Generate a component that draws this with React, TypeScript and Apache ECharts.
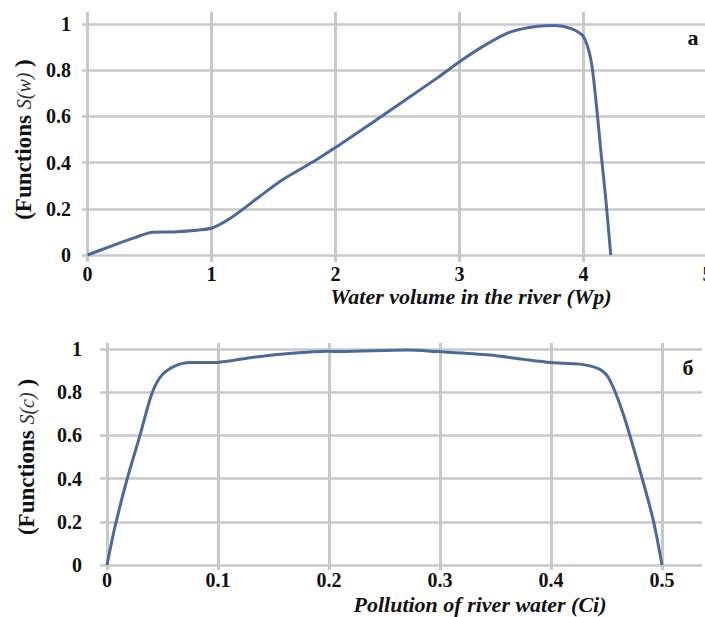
import React, { useEffect, useRef } from "react";
import * as echarts from "echarts";

// Panel а: S(w) vs water volume Wp
const wValues = [0, 0.18, 0.37, 0.53, 0.69, 0.9, 1.01, 1.17, 1.38, 1.57, 1.84, 2.01, 2.29, 2.56, 2.83, 3.02, 3.23, 3.42, 3.63, 3.77, 3.9, 4.0, 4.06, 4.1, 4.14, 4.18, 4.22];
const sW = [0, 0.036, 0.073, 0.099, 0.1, 0.108, 0.118, 0.166, 0.25, 0.325, 0.41, 0.469, 0.57, 0.67, 0.77, 0.844, 0.916, 0.967, 0.99, 0.994, 0.98, 0.945, 0.844, 0.67, 0.45, 0.24, 0];

// Panel б: S(c) vs pollution Ci
const cValues = [0, 0.0072, 0.0177, 0.0297, 0.04, 0.048, 0.06, 0.075, 0.099, 0.129, 0.159, 0.199, 0.21, 0.27, 0.297, 0.345, 0.375, 0.4, 0.426, 0.444, 0.453, 0.465, 0.48, 0.492, 0.5];
const sC = [0, 0.177, 0.39, 0.6, 0.787, 0.87, 0.918, 0.937, 0.938, 0.96, 0.977, 0.99, 0.988, 0.995, 0.988, 0.972, 0.952, 0.937, 0.93, 0.906, 0.856, 0.7, 0.44, 0.21, 0];

const xNameTop = "Water volume in the river (Wp)";
const xNameBottom = "Pollution of river water (Ci)";
const panelTop = "а";
const panelBottom = "б";

const SERIF = "Liberation Serif";
const GRID_COLOR = "#c9c9c9";
const LINE_COLOR = "#4a6a9c";

export default function App() {
  const ref = useRef<HTMLDivElement>(null);
  useEffect(() => {
    if (!ref.current) return;
    const chart = echarts.init(ref.current, null, { renderer: "svg" });
    const labelStyle = {
      fontFamily: SERIF,
      fontWeight: "bold" as const,
      fontSize: 20,
      color: "#111",
    };
    const nameRich = {
      b: { fontFamily: SERIF, fontWeight: "bold", fontSize: 23, color: "#111" },
      m: { fontFamily: SERIF, fontStyle: "italic", fontSize: 20, color: "#333" },
    };
    const option: any = {
      animation: false,
      backgroundColor: "#ffffff",
      grid: [
        // top, vertical grid lines + series
        { left: 87.5, top: 12, width: 620, height: 250, outerBoundsMode: "none", containLabel: false },
        // top, horizontal grid lines + y labels
        { left: 82, top: 24, right: 0, height: 231, outerBoundsMode: "none", containLabel: false },
        // bottom, vertical grid lines + series
        { left: 107, top: 343, width: 555, height: 227, outerBoundsMode: "none", containLabel: false },
        // bottom, horizontal grid lines + y labels
        { left: 100, top: 349, right: 3, height: 216, outerBoundsMode: "none", containLabel: false },
      ],
      xAxis: [
        {
          gridIndex: 0, type: "value", min: 0, max: 5, interval: 1,
          axisLine: { show: false }, axisTick: { show: false },
          splitLine: { show: true, lineStyle: { color: GRID_COLOR, width: 3 } },
          axisLabel: { ...labelStyle, margin: 2 },
        },
        { gridIndex: 1, type: "value", min: 0, max: 1, show: false },
        {
          gridIndex: 2, type: "value", min: 0, max: 0.5, interval: 0.1,
          axisLine: { show: false }, axisTick: { show: false },
          splitLine: { show: true, lineStyle: { color: GRID_COLOR, width: 3 } },
          axisLabel: { ...labelStyle, margin: 0 },
        },
        { gridIndex: 3, type: "value", min: 0, max: 1, show: false },
      ],
      yAxis: [
        { gridIndex: 0, type: "value", min: -0.0303, max: 1.0519, show: false },
        {
          gridIndex: 1, type: "value", min: 0, max: 1, interval: 0.2,
          axisLine: { show: false }, axisTick: { show: false },
          splitLine: { show: true, lineStyle: { color: GRID_COLOR, width: 2.5 } },
          axisLabel: { ...labelStyle, margin: 11 },
          name: "{b|(Functions }{m|S(w)}{b| )}",
          nameLocation: "middle", nameRotate: 90, nameGap: 44,
          nameTextStyle: { rich: nameRich },
        },
        { gridIndex: 2, type: "value", min: -0.0231, max: 1.0278, show: false },
        {
          gridIndex: 3, type: "value", min: 0, max: 1, interval: 0.2,
          axisLine: { show: false }, axisTick: { show: false },
          splitLine: { show: true, lineStyle: { color: GRID_COLOR, width: 2.5 } },
          axisLabel: { ...labelStyle, margin: 18 },
          name: "{b|(Functions }{m|S(c)}{b| )}",
          nameLocation: "middle", nameRotate: 90, nameGap: 62,
          nameTextStyle: { rich: nameRich },
        },
      ],
      series: [
        {
          type: "line", xAxisIndex: 0, yAxisIndex: 0,
          data: wValues.map((w, i) => [w, sW[i]]),
          showSymbol: false, smooth: 0.3,
          lineStyle: { color: LINE_COLOR, width: 3 },
          z: 5,
        },
        {
          type: "line", xAxisIndex: 2, yAxisIndex: 2,
          data: cValues.map((c, i) => [c, sC[i]]),
          showSymbol: false, smooth: 0.3,
          lineStyle: { color: LINE_COLOR, width: 3 },
          z: 5,
        },
      ],
      graphic: [
        {
          type: "text", x: 471, y: 296,
          style: {
            text: xNameTop, fontFamily: SERIF, fontWeight: "bold", fontStyle: "italic",
            fontSize: 22, fill: "#111", align: "center", verticalAlign: "middle",
          },
        },
        {
          type: "text", x: 480, y: 604,
          style: {
            text: xNameBottom, fontFamily: SERIF, fontWeight: "bold", fontStyle: "italic",
            fontSize: 22, fill: "#111", align: "center", verticalAlign: "middle",
          },
        },
        {
          type: "text", x: 693, y: 37,
          style: {
            text: panelTop, fontFamily: SERIF, fontWeight: "bold",
            fontSize: 22, fill: "#111", align: "center", verticalAlign: "middle",
          },
        },
        {
          type: "text", x: 688, y: 367,
          style: {
            text: panelBottom, fontFamily: SERIF, fontWeight: "bold",
            fontSize: 22, fill: "#111", align: "center", verticalAlign: "middle",
          },
        },
      ],
    };
    chart.setOption(option);
    return () => chart.dispose();
  }, []);
  return (
    <div
      ref={ref}
      style={{ position: "absolute", left: 0, top: 0, width: 705, height: 617 }}
    />
  );
}
